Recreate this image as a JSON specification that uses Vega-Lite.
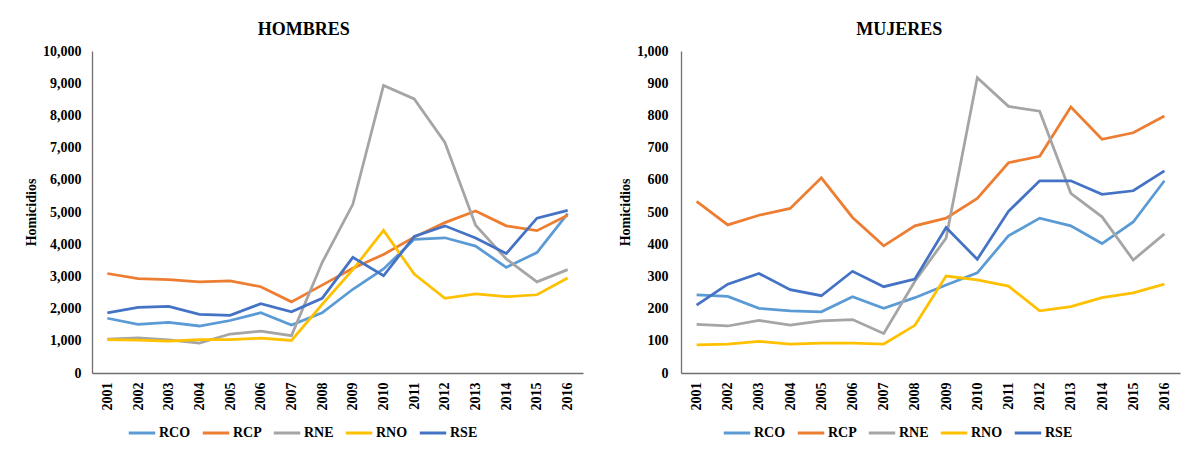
{
  "$schema": "https://vega.github.io/schema/vega-lite/v6.json",
  "background": "white",
  "padding": {"left": 24, "top": 21, "right": 5, "bottom": 5},
  "datasets": {
    "hombres": [
      {"region":"RCO","anio":"2001","valor":1700},{"region":"RCO","anio":"2002","valor":1510},{"region":"RCO","anio":"2003","valor":1570},{"region":"RCO","anio":"2004","valor":1460},{"region":"RCO","anio":"2005","valor":1630},{"region":"RCO","anio":"2006","valor":1870},{"region":"RCO","anio":"2007","valor":1490},{"region":"RCO","anio":"2008","valor":1870},{"region":"RCO","anio":"2009","valor":2600},{"region":"RCO","anio":"2010","valor":3230},{"region":"RCO","anio":"2011","valor":4150},{"region":"RCO","anio":"2012","valor":4200},{"region":"RCO","anio":"2013","valor":3940},{"region":"RCO","anio":"2014","valor":3280},{"region":"RCO","anio":"2015","valor":3740},{"region":"RCO","anio":"2016","valor":4950},
      {"region":"RCP","anio":"2001","valor":3090},{"region":"RCP","anio":"2002","valor":2930},{"region":"RCP","anio":"2003","valor":2900},{"region":"RCP","anio":"2004","valor":2830},{"region":"RCP","anio":"2005","valor":2860},{"region":"RCP","anio":"2006","valor":2680},{"region":"RCP","anio":"2007","valor":2210},{"region":"RCP","anio":"2008","valor":2730},{"region":"RCP","anio":"2009","valor":3250},{"region":"RCP","anio":"2010","valor":3680},{"region":"RCP","anio":"2011","valor":4220},{"region":"RCP","anio":"2012","valor":4670},{"region":"RCP","anio":"2013","valor":5030},{"region":"RCP","anio":"2014","valor":4570},{"region":"RCP","anio":"2015","valor":4420},{"region":"RCP","anio":"2016","valor":4900},
      {"region":"RNE","anio":"2001","valor":1050},{"region":"RNE","anio":"2002","valor":1090},{"region":"RNE","anio":"2003","valor":1030},{"region":"RNE","anio":"2004","valor":930},{"region":"RNE","anio":"2005","valor":1210},{"region":"RNE","anio":"2006","valor":1300},{"region":"RNE","anio":"2007","valor":1160},{"region":"RNE","anio":"2008","valor":3430},{"region":"RNE","anio":"2009","valor":5240},{"region":"RNE","anio":"2010","valor":8930},{"region":"RNE","anio":"2011","valor":8510},{"region":"RNE","anio":"2012","valor":7160},{"region":"RNE","anio":"2013","valor":4590},{"region":"RNE","anio":"2014","valor":3540},{"region":"RNE","anio":"2015","valor":2830},{"region":"RNE","anio":"2016","valor":3210},
      {"region":"RNO","anio":"2001","valor":1040},{"region":"RNO","anio":"2002","valor":1020},{"region":"RNO","anio":"2003","valor":990},{"region":"RNO","anio":"2004","valor":1040},{"region":"RNO","anio":"2005","valor":1040},{"region":"RNO","anio":"2006","valor":1080},{"region":"RNO","anio":"2007","valor":1010},{"region":"RNO","anio":"2008","valor":2130},{"region":"RNO","anio":"2009","valor":3210},{"region":"RNO","anio":"2010","valor":4430},{"region":"RNO","anio":"2011","valor":3070},{"region":"RNO","anio":"2012","valor":2320},{"region":"RNO","anio":"2013","valor":2460},{"region":"RNO","anio":"2014","valor":2370},{"region":"RNO","anio":"2015","valor":2430},{"region":"RNO","anio":"2016","valor":2950},
      {"region":"RSE","anio":"2001","valor":1870},{"region":"RSE","anio":"2002","valor":2040},{"region":"RSE","anio":"2003","valor":2070},{"region":"RSE","anio":"2004","valor":1820},{"region":"RSE","anio":"2005","valor":1790},{"region":"RSE","anio":"2006","valor":2150},{"region":"RSE","anio":"2007","valor":1900},{"region":"RSE","anio":"2008","valor":2320},{"region":"RSE","anio":"2009","valor":3590},{"region":"RSE","anio":"2010","valor":3020},{"region":"RSE","anio":"2011","valor":4240},{"region":"RSE","anio":"2012","valor":4570},{"region":"RSE","anio":"2013","valor":4190},{"region":"RSE","anio":"2014","valor":3710},{"region":"RSE","anio":"2015","valor":4810},{"region":"RSE","anio":"2016","valor":5050}
    ],
    "mujeres": [
      {"region":"RCO","anio":"2001","valor":243},{"region":"RCO","anio":"2002","valor":238},{"region":"RCO","anio":"2003","valor":201},{"region":"RCO","anio":"2004","valor":193},{"region":"RCO","anio":"2005","valor":190},{"region":"RCO","anio":"2006","valor":237},{"region":"RCO","anio":"2007","valor":201},{"region":"RCO","anio":"2008","valor":234},{"region":"RCO","anio":"2009","valor":273},{"region":"RCO","anio":"2010","valor":311},{"region":"RCO","anio":"2011","valor":426},{"region":"RCO","anio":"2012","valor":481},{"region":"RCO","anio":"2013","valor":457},{"region":"RCO","anio":"2014","valor":402},{"region":"RCO","anio":"2015","valor":469},{"region":"RCO","anio":"2016","valor":597},
      {"region":"RCP","anio":"2001","valor":533},{"region":"RCP","anio":"2002","valor":460},{"region":"RCP","anio":"2003","valor":490},{"region":"RCP","anio":"2004","valor":511},{"region":"RCP","anio":"2005","valor":606},{"region":"RCP","anio":"2006","valor":483},{"region":"RCP","anio":"2007","valor":395},{"region":"RCP","anio":"2008","valor":457},{"region":"RCP","anio":"2009","valor":481},{"region":"RCP","anio":"2010","valor":542},{"region":"RCP","anio":"2011","valor":653},{"region":"RCP","anio":"2012","valor":673},{"region":"RCP","anio":"2013","valor":826},{"region":"RCP","anio":"2014","valor":726},{"region":"RCP","anio":"2015","valor":746},{"region":"RCP","anio":"2016","valor":798},
      {"region":"RNE","anio":"2001","valor":151},{"region":"RNE","anio":"2002","valor":146},{"region":"RNE","anio":"2003","valor":163},{"region":"RNE","anio":"2004","valor":149},{"region":"RNE","anio":"2005","valor":162},{"region":"RNE","anio":"2006","valor":166},{"region":"RNE","anio":"2007","valor":123},{"region":"RNE","anio":"2008","valor":285},{"region":"RNE","anio":"2009","valor":419},{"region":"RNE","anio":"2010","valor":917},{"region":"RNE","anio":"2011","valor":828},{"region":"RNE","anio":"2012","valor":813},{"region":"RNE","anio":"2013","valor":558},{"region":"RNE","anio":"2014","valor":485},{"region":"RNE","anio":"2015","valor":351},{"region":"RNE","anio":"2016","valor":432},
      {"region":"RNO","anio":"2001","valor":87},{"region":"RNO","anio":"2002","valor":90},{"region":"RNO","anio":"2003","valor":98},{"region":"RNO","anio":"2004","valor":90},{"region":"RNO","anio":"2005","valor":93},{"region":"RNO","anio":"2006","valor":93},{"region":"RNO","anio":"2007","valor":90},{"region":"RNO","anio":"2008","valor":148},{"region":"RNO","anio":"2009","valor":301},{"region":"RNO","anio":"2010","valor":289},{"region":"RNO","anio":"2011","valor":270},{"region":"RNO","anio":"2012","valor":193},{"region":"RNO","anio":"2013","valor":206},{"region":"RNO","anio":"2014","valor":234},{"region":"RNO","anio":"2015","valor":249},{"region":"RNO","anio":"2016","valor":276},
      {"region":"RSE","anio":"2001","valor":211},{"region":"RSE","anio":"2002","valor":276},{"region":"RSE","anio":"2003","valor":309},{"region":"RSE","anio":"2004","valor":259},{"region":"RSE","anio":"2005","valor":240},{"region":"RSE","anio":"2006","valor":316},{"region":"RSE","anio":"2007","valor":268},{"region":"RSE","anio":"2008","valor":292},{"region":"RSE","anio":"2009","valor":452},{"region":"RSE","anio":"2010","valor":353},{"region":"RSE","anio":"2011","valor":502},{"region":"RSE","anio":"2012","valor":597},{"region":"RSE","anio":"2013","valor":597},{"region":"RSE","anio":"2014","valor":555},{"region":"RSE","anio":"2015","valor":566},{"region":"RSE","anio":"2016","valor":628}
    ]
  },
  "spacing": 35,
  "resolve": {
    "scale": {"x": "independent", "y": "independent", "color": "independent"},
    "legend": {"color": "independent"}
  },
  "hconcat": [
    {
      "title": {"text": "HOMBRES"},
      "width": 491,
      "height": 322,
      "data": {"name": "hombres"},
      "mark": {"type": "line", "strokeWidth": 2.75},
      "encoding": {
        "x": {"field": "anio", "type": "ordinal", "axis": {"title": null, "labelAngle": -90, "labelPadding": 9}},
        "y": {
          "field": "valor", "type": "quantitative",
          "scale": {"domain": [0, 10000], "nice": false},
          "axis": {"title": "Homicidios", "values": [0,1000,2000,3000,4000,5000,6000,7000,8000,9000,10000], "format": ",.0f", "labelPadding": 11, "titlePadding": 4}
        },
        "color": {
          "field": "region", "type": "nominal",
          "scale": {"domain": ["RCO","RCP","RNE","RNO","RSE"], "range": ["#5B9BD5","#ED7D31","#A5A5A5","#FFC000","#4472C4"]},
          "legend": {"title": null, "orient": "none", "legendX": 35, "legendY": 367}
        }
      }
    },
    {
      "title": {"text": "MUJERES"},
      "width": 499,
      "height": 322,
      "data": {"name": "mujeres"},
      "mark": {"type": "line", "strokeWidth": 2.75},
      "encoding": {
        "x": {"field": "anio", "type": "ordinal", "axis": {"title": null, "labelAngle": -90, "labelPadding": 9}},
        "y": {
          "field": "valor", "type": "quantitative",
          "scale": {"domain": [0, 1000], "nice": false},
          "axis": {"title": "Homicidios", "values": [0,100,200,300,400,500,600,700,800,900,1000], "format": ",.0f", "labelPadding": 13, "titlePadding": 4}
        },
        "color": {
          "field": "region", "type": "nominal",
          "scale": {"domain": ["RCO","RCP","RNE","RNO","RSE"], "range": ["#5B9BD5","#ED7D31","#A5A5A5","#FFC000","#4472C4"]},
          "legend": {"title": null, "orient": "none", "legendX": 41, "legendY": 367}
        }
      }
    }
  ],
  "config": {
    "font": "Liberation Serif",
    "view": {"stroke": null},
    "title": {"font": "Liberation Serif", "fontSize": 18, "fontWeight": "bold", "color": "#000000", "anchor": "middle", "frame": "bounds", "offset": 5},
    "axis": {
      "labelFont": "Liberation Serif", "labelFontSize": 14, "labelFontWeight": "bold", "labelColor": "#000000",
      "titleFont": "Liberation Serif", "titleFontSize": 14, "titleFontWeight": "bold", "titleColor": "#000000",
      "ticks": false, "grid": false, "domainColor": "#6f6f6f", "domainWidth": 1.3
    },
    "legend": {
      "direction": "horizontal", "padding": 0,
      "labelFont": "Liberation Serif", "labelFontSize": 14, "labelFontWeight": "bold", "labelColor": "#000000",
      "symbolType": "stroke", "symbolStrokeWidth": 3, "symbolSize": 700,
      "columnPadding": 5, "labelOffset": 2
    }
  }
}
